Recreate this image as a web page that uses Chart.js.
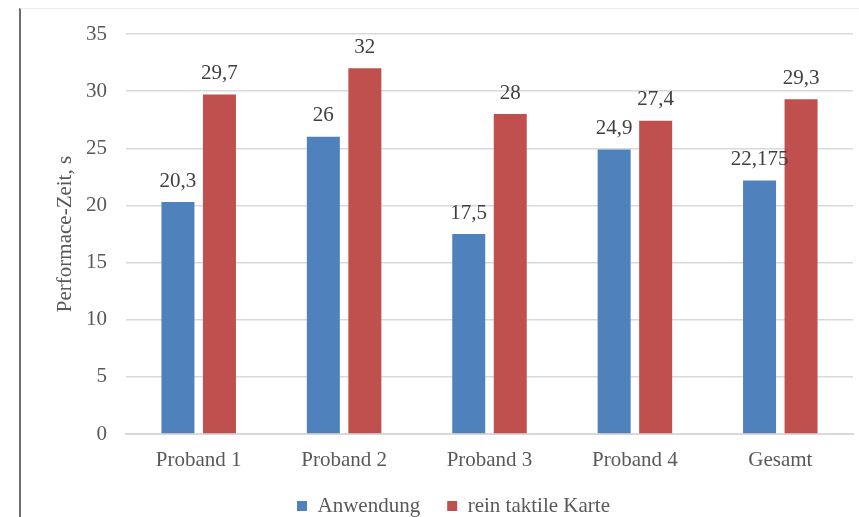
<!DOCTYPE html>
<html>
<head>
<meta charset="utf-8">
<script src="https://cdn.jsdelivr.net/npm/chart.js@4/dist/chart.umd.min.js"></script>
<style>
  html, body { margin: 0; padding: 0; background: #fff; }
  #wrap { position: relative; width: 859px; height: 517px; overflow: hidden; }
  #frame {
    position: absolute; left: 19px; top: 8px; right: -2px; bottom: -2px;
    border-left: 2px solid #6e6e6e; border-top: 1px solid #ececec;
  }
  canvas { position: absolute; left: 0; top: 0; }
</style>
</head>
<body>
<div id="wrap">
  <div id="frame"></div>
  <canvas id="myChart" width="859" height="517"></canvas>
</div>
<script>
const categories = ["Proband 1", "Proband 2", "Proband 3", "Proband 4", "Gesamt"];
const anwendung = [20.3, 26, 17.5, 24.9, 22.175];
const taktileKarte = [29.7, 32, 28, 27.4, 29.3];
const yTicks = [0, 5, 10, 15, 20, 25, 30, 35];

const serif = "Liberation Serif";
const grey = "#595959";

Chart.defaults.font.family = serif;
Chart.defaults.font.size = 21;
Chart.defaults.color = grey;
Chart.defaults.plugins.legend.labels.font = { family: serif, size: 21 };

// values above each bar, German decimal comma
const barValues = {
  id: "barValues",
  afterDatasetsDraw(chart) {
    const ctx = chart.ctx;
    ctx.save();
    ctx.font = "21px '" + serif + "'";
    ctx.fillStyle = "#404040";
    ctx.textAlign = "center";
    ctx.textBaseline = "middle";
    chart.data.datasets.forEach((ds, i) => {
      chart.getDatasetMeta(i).data.forEach((bar, j) => {
        const text = String(ds.data[j]).replace(".", ",");
        ctx.fillText(text, bar.x, bar.y - 21);
      });
    });
    ctx.restore();
  }
};

const data = {
  labels: categories,
  datasets: [
    {
      label: "Anwendung",
      backgroundColor: "#4F81BD",
      data: anwendung,
    },
    {
      label: "rein taktile Karte",
      backgroundColor: "#C0504D",
      data: taktileKarte,
    },
  ],
};

const config = {
  type: "bar",
  data: data,
  plugins: [barValues],
  options: {
    responsive: false,
    animation: false,
    events: [],
    categoryPercentage: 0.571,
    barPercentage: 0.795,
    layout: { padding: { top: 34, right: 6, left: 54, bottom: -9.5 } },
    plugins: {
      tooltip: { enabled: false },
      legend: {
        position: "bottom",
        labels: {
          font: { family: serif, size: 21 },
          color: grey,
          boxWidth: 10,
          boxHeight: 10,
          padding: 27,
        },
      },
    },
    scales: {
      x: {
        grid: { display: false, drawTicks: false },
        border: { color: "#d9d9d9", width: 2 },
        ticks: {
          font: { family: serif, size: 21 },
          color: grey,
          padding: 14,
        },
        afterFit(scale) { scale.height = 34.5; },
      },
      y: {
        min: 0,
        max: 35,
        afterBuildTicks(scale) {
          scale.ticks = yTicks.map((v) => ({ value: v }));
        },
        grid: { color: "#d9d9d9", lineWidth: 1.5, drawTicks: false },
        border: { display: false },
        ticks: {
          font: { family: serif, size: 21 },
          color: grey,
          padding: 19,
        },
        title: {
          display: true,
          text: "Performace-Zeit, s",
          font: { family: serif, size: 21 },
          color: grey,
          padding: { top: -1, bottom: 0 },
        },
        afterFit(scale) { scale.width = 72; },
      },
    },
  },
};

new Chart(document.getElementById("myChart"), config);
</script>
</body>
</html>
